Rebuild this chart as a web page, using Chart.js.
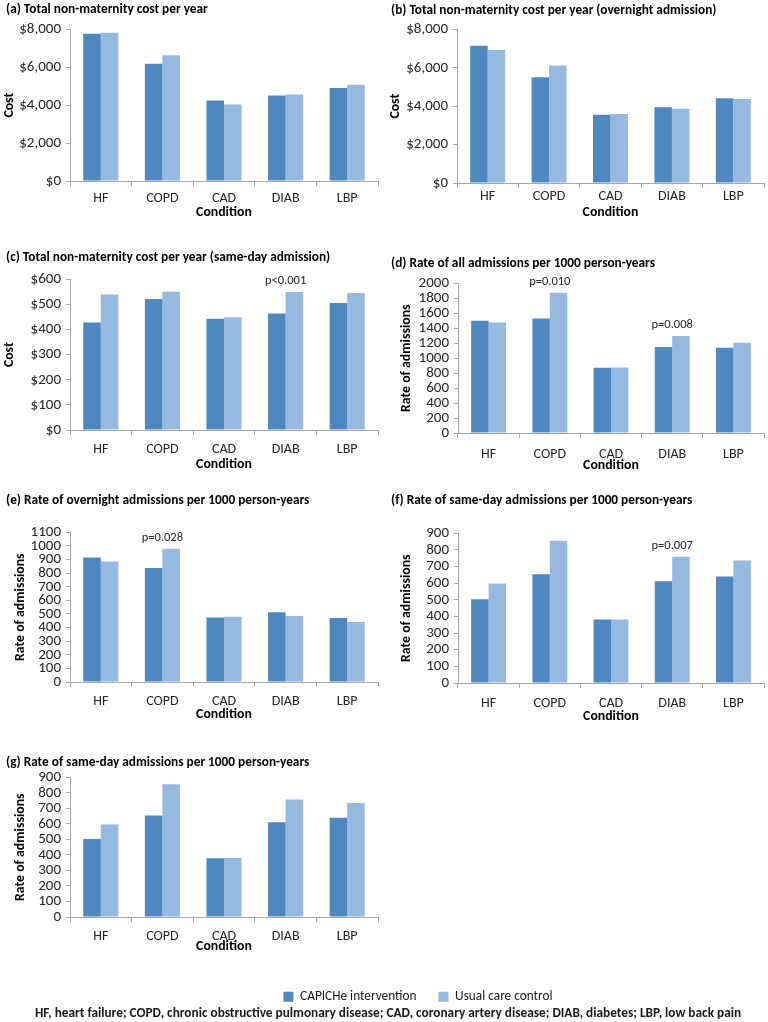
<!DOCTYPE html>
<html><head><meta charset="utf-8">
<script src="https://cdn.jsdelivr.net/npm/chart.js@4.4.0/dist/chart.umd.min.js"></script>
<style>
html,body{margin:0;padding:0;background:#fff;}
body{width:768px;height:1022px;position:relative;overflow:hidden;font-family:Carlito,Lato,sans-serif;}
canvas{position:absolute;}
#foot{position:absolute;left:0;width:776px;top:1004px;text-align:center;font-weight:bold;font-size:13.3px;line-height:18px;color:#1a1a1a;white-space:nowrap;}
</style></head><body>
<canvas id="ca"></canvas><canvas id="cb"></canvas><canvas id="cc"></canvas><canvas id="cd"></canvas>
<canvas id="ce"></canvas><canvas id="cf"></canvas><canvas id="cg"></canvas><canvas id="cl"></canvas>
<div id="foot">HF, heart failure; COPD, chronic obstructive pulmonary disease; CAD, coronary artery disease; DIAB, diabetes; LBP, low back pain</div>
<script>
const categories = ['HF', 'COPD', 'CAD', 'DIAB', 'LBP'];
const seriesNames = ['CAPICHe intervention', 'Usual care control'];

const costAllInt = [7770, 6190, 4250, 4510, 4910];
const costAllCtl = [7820, 6630, 4040, 4560, 5080];
const costOvnInt = [7150, 5510, 3560, 3940, 4410];
const costOvnCtl = [6930, 6120, 3590, 3870, 4380];
const costSameInt = [428, 522, 443, 464, 506];
const costSameCtl = [540, 551, 449, 550, 546];
const rateAllInt = [1500, 1530, 872, 1148, 1138];
const rateAllCtl = [1477, 1876, 876, 1297, 1205];
const rateOvnInt = [916, 838, 474, 513, 471];
const rateOvnCtl = [886, 980, 480, 486, 441];
const rateSameInt = [504, 654, 382, 612, 641];
const rateSameCtl = [599, 856, 382, 760, 737];
const rateSameIntG = [503, 654, 379, 611, 639];
const rateSameCtlG = [596, 855, 381, 757, 735];

const notesA = [null, null, null, null, null];
const notesB = [null, null, null, null, null];
const notesC = [null, null, null, 'p<0.001', null];
const notesD = [null, 'p=0.010', null, 'p=0.008', null];
const notesE = [null, 'p=0.028', null, null, null];
const notesF = [null, null, null, 'p=0.007', null];
const notesG = [null, null, null, null, null];

const colInt = '#4f87c0';
const colCtl = '#96b9e0';
const axisCol = '#a6a6a6';
const txtCol = '#262626';
const FONT = 'Carlito, Lato, sans-serif';
Chart.defaults.font.family = FONT;
Chart.defaults.color = txtCol;

const panels = [
  {cv:'ca', title:'(a) Total non-maternity cost per year', ylab:'Cost', a:costAllInt, b:costAllCtl, max:8000, step:2000, money:true, notes:notesA,
   g:{px:0, tx:6, tcy:9, l:70, r:378, t:29, b:181, ycx:9, xtcy:197, xlcy:213}},
  {cv:'cb', title:'(b) Total non-maternity cost per year (overnight admission)', ylab:'Cost', a:costOvnInt, b:costOvnCtl, max:8000, step:2000, money:true, notes:notesB,
   g:{px:384, tx:391, tcy:10, l:457, r:764, t:29, b:183, ycx:395, xtcy:195, xlcy:213}},
  {cv:'cc', title:'(c) Total non-maternity cost per year (same-day admission)', ylab:'Cost', a:costSameInt, b:costSameCtl, max:600, step:100, money:true, notes:notesC,
   g:{px:0, tx:6, tcy:257, l:70, r:378, t:279, b:430, ycx:9, xtcy:448, xlcy:465}},
  {cv:'cd', title:'(d) Rate of all admissions per 1000 person-years', ylab:'Rate of admissions', a:rateAllInt, b:rateAllCtl, max:2000, step:200, money:false, notes:notesD,
   g:{px:384, tx:391, tcy:263, l:458, r:764, t:283, b:433, ycx:406, xtcy:453, xlcy:466}},
  {cv:'ce', title:'(e) Rate of overnight admissions per 1000 person-years', ylab:'Rate of admissions', a:rateOvnInt, b:rateOvnCtl, max:1100, step:100, money:false, notes:notesE,
   g:{px:0, tx:6, tcy:500, l:70, r:378, t:532, b:682, ycx:20, xtcy:700, xlcy:715}},
  {cv:'cf', title:'(f) Rate of same-day admissions per 1000 person-years', ylab:'Rate of admissions', a:rateSameInt, b:rateSameCtl, max:900, step:100, money:false, notes:notesF,
   g:{px:384, tx:391, tcy:500, l:458, r:764, t:533, b:683, ycx:406, xtcy:702, xlcy:717}},
  {cv:'cg', title:'(g) Rate of same-day admissions per 1000 person-years', ylab:'Rate of admissions', a:rateSameIntG, b:rateSameCtlG, max:900, step:100, money:false, notes:notesG,
   g:{px:0, tx:6, tcy:762, l:70, r:378, t:777, b:917, ycx:20, xtcy:935, xlcy:947}}
];

const noteplugin = {
  id: 'pnotes',
  afterDatasetsDraw(chart, args, opts) {
    const notes = opts.notes || [];
    const ctx = chart.ctx;
    const xs = chart.scales.x;
    ctx.save();
    ctx.font = '12.5px ' + FONT;
    ctx.fillStyle = txtCol;
    ctx.textAlign = 'center';
    ctx.textBaseline = 'middle';
    notes.forEach((n, i) => {
      if (!n) return;
      const y0 = chart.getDatasetMeta(0).data[i].y;
      const y1 = chart.getDatasetMeta(1).data[i].y;
      ctx.fillText(n, xs.getPixelForValue(i), Math.min(y0, y1) - 11);
    });
    ctx.restore();
  }
};

function money(v) { return '$' + Number(v).toLocaleString('en-US'); }

panels.forEach(p => {
  const g = p.g;
  const cv = document.getElementById(p.cv);
  const top = g.tcy - 10;
  const hx = g.xlcy - g.b + 10;
  const h = g.b + hx - top;
  cv.width = 384; cv.height = h;
  cv.style.left = g.px + 'px'; cv.style.top = top + 'px';
  cv.style.width = '384px'; cv.style.height = h + 'px';
  new Chart(cv, {
    type: 'bar',
    data: {
      labels: categories,
      datasets: [
        {label: seriesNames[0], data: p.a, backgroundColor: colInt, categoryPercentage: 0.57, barPercentage: 1.0},
        {label: seriesNames[1], data: p.b, backgroundColor: colCtl, categoryPercentage: 0.57, barPercentage: 1.0}
      ]
    },
    options: {
      responsive: false, animation: false, devicePixelRatio: 1, events: [],
      layout: {padding: {left: g.tx - g.px, right: g.px + 384 - g.r, top: 0, bottom: 0}},
      plugins: {
        legend: {display: false}, tooltip: {enabled: false},
        title: {display: true, text: p.title, align: 'start', color: '#000',
          font: {size: 13.3, weight: 'bold'}, padding: {top: 2.2, bottom: g.t - g.tcy - 7.8}},
        pnotes: {notes: p.notes}
      },
      scales: {
        x: {
          grid: {display: true, drawOnChartArea: false, drawTicks: true, tickLength: 5, color: axisCol, offset: true},
          border: {display: true, color: axisCol},
          ticks: {font: {size: 14}, color: txtCol, padding: g.xtcy - g.b - 5 - 7, maxRotation: 0, autoSkip: false},
          title: {display: true, text: 'Condition', font: {size: 13.8, weight: 'bold'}, color: '#000', padding: {top: 0, bottom: 2.2}},
          afterFit: s => { s.height = hx; }
        },
        y: {
          min: 0, max: p.max,
          grid: {display: true, drawOnChartArea: false, drawTicks: true, tickLength: 4, color: axisCol},
          border: {display: true, color: axisCol},
          ticks: {stepSize: p.step, font: {size: 15}, color: txtCol, padding: 5, autoSkip: false,
            callback: v => p.money ? money(v) : String(v)},
          title: {display: true, text: p.ylab, font: {size: 13.8, weight: 'bold'}, color: '#000', padding: {top: g.ycx - g.tx - 7.8, bottom: 0}},
          afterFit: s => { s.width = g.l - g.tx; }
        }
      }
    },
    plugins: [noteplugin]
  });
});

// legend
(function () {
  const cv = document.getElementById('cl');
  cv.width = 768; cv.height = 160;
  cv.style.left = '0px'; cv.style.top = '968px';
  cv.style.width = '768px'; cv.style.height = '160px';
  new Chart(cv, {
    type: 'bar',
    data: {labels: [], datasets: [
      {label: seriesNames[0], data: [], backgroundColor: colInt},
      {label: seriesNames[1], data: [], backgroundColor: colCtl}
    ]},
    options: {
      responsive: false, animation: false, devicePixelRatio: 1, events: [],
      layout: {padding: {left: 68, right: 0, top: 0, bottom: 0}},
      scales: {x: {display: false}, y: {display: false}},
      plugins: {
        tooltip: {enabled: false},
        legend: {display: true, position: 'top',
          labels: {boxWidth: 10, boxHeight: 10, padding: 22, font: {size: 13.3}, color: '#1a1a1a'}}
      }
    }
  });
})();
</script>
</body></html>
